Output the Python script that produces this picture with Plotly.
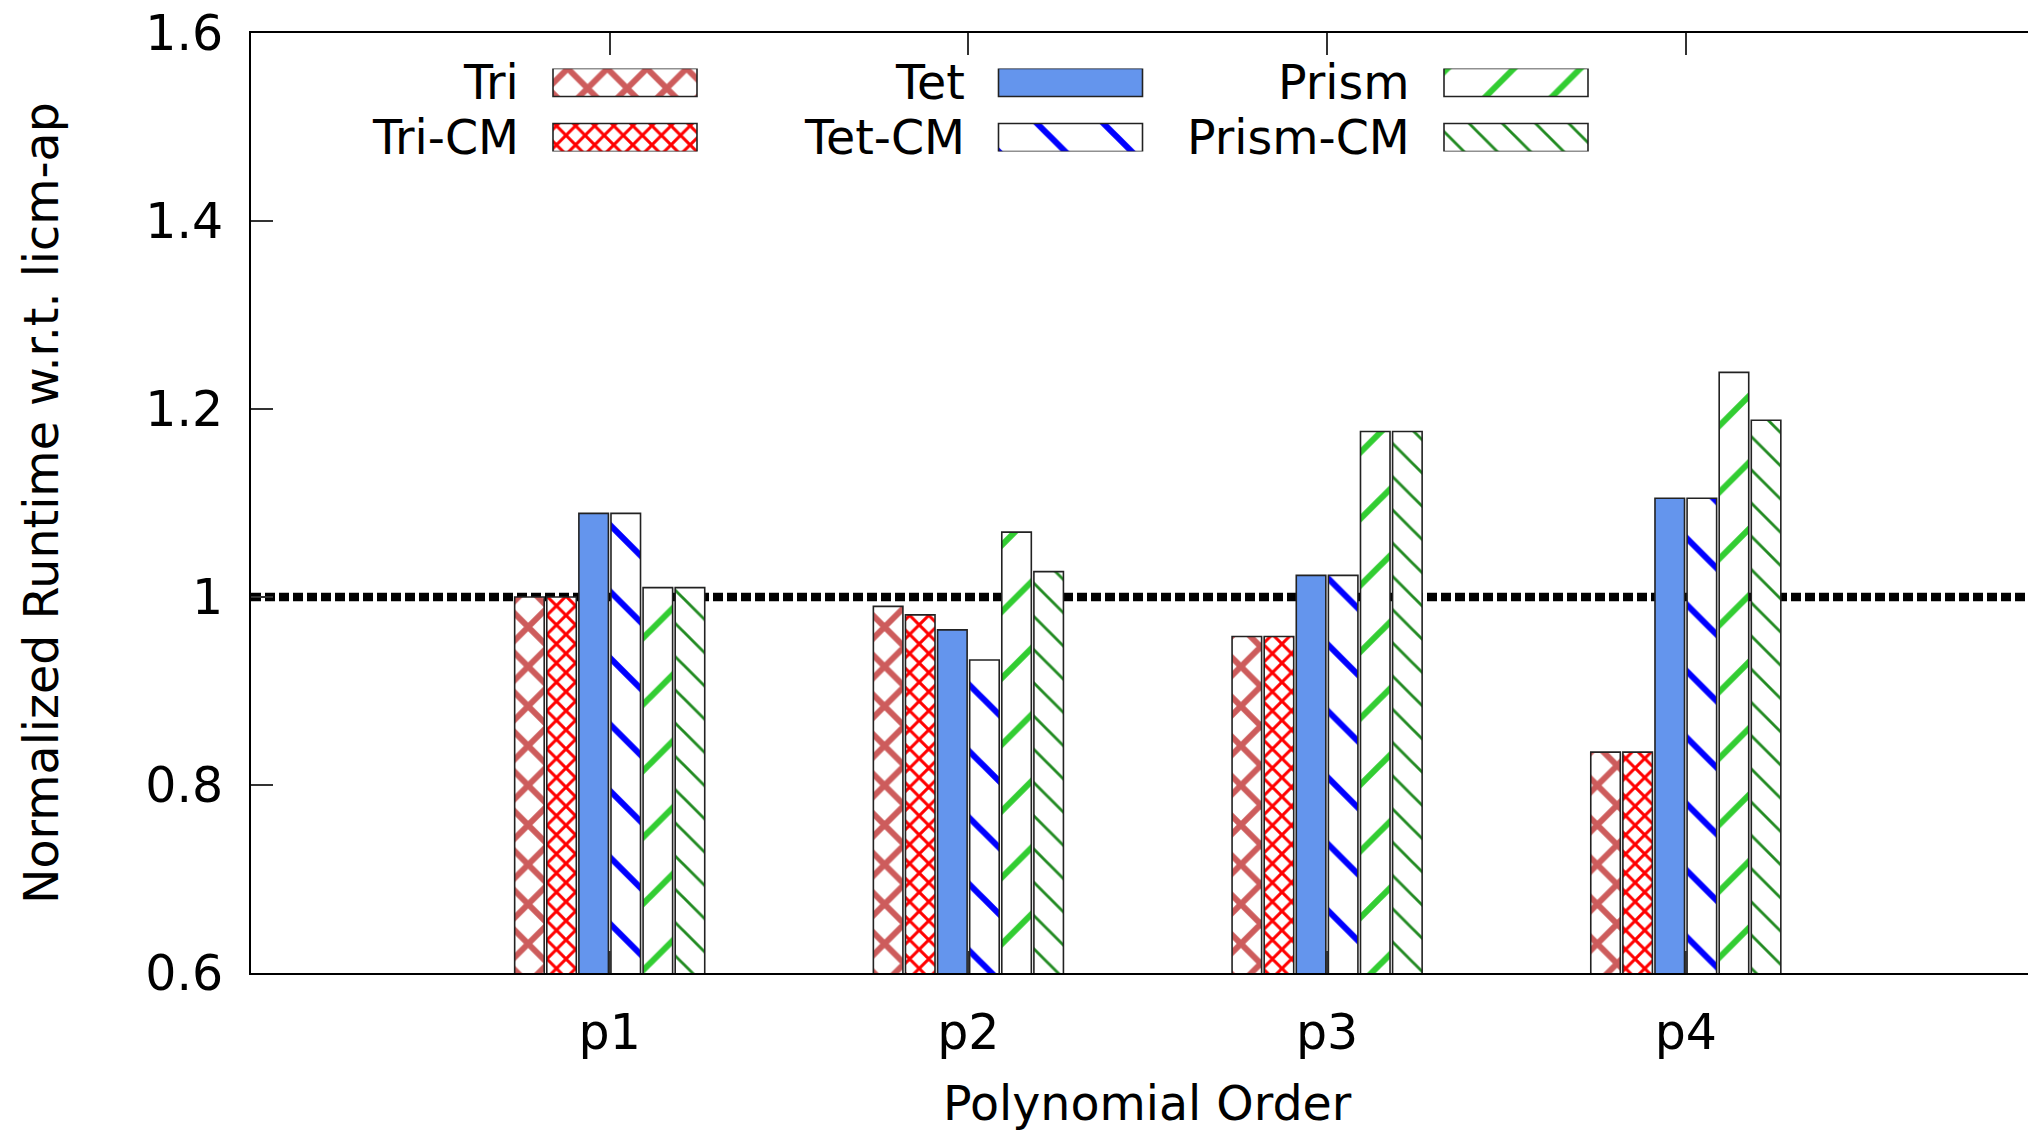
import plotly.graph_objects as go

# ---------------- data ----------------
categories = ["p1", "p2", "p3", "p4"]
category_pos = [1, 2, 3, 4]
series_names = ["Tri", "Tri-CM", "Tet", "Tet-CM", "Prism", "Prism-CM"]
tri = [1.000, 0.990, 0.958, 0.835]
tri_cm = [1.000, 0.981, 0.958, 0.835]
tet = [1.089, 0.965, 1.023, 1.105]
tet_cm = [1.089, 0.933, 1.023, 1.105]
prism = [1.010, 1.069, 1.176, 1.239]
prism_cm = [1.010, 1.027, 1.176, 1.188]
y_tick_vals = [0.6, 0.8, 1.0, 1.2, 1.4, 1.6]
y_tick_labels = ["0.6", "0.8", "1", "1.2", "1.4", "1.6"]
y_grid_vals = [0.8, 1.2, 1.4]
reference_level = 1.0

series_values = [tri, tri_cm, tet, tet_cm, prism, prism_cm]

# ---------------- styles ----------------
FONT = "DejaVu Sans"
FS = 47.5
TICK_FS = 49
styles = [
    dict(color="#CD5C5C", shape="x", size=28, solidity=0.38),
    dict(color="#FF0000", shape="x", size=13.5, solidity=0.40),
    dict(color="#6495ED", shape="", size=10, solidity=1.0),
    dict(color="#0000FF", shape="\\", size=47, solidity=0.13),
    dict(color="#32CD32", shape="/", size=47, solidity=0.13),
    dict(color="#228B22", shape="\\", size=23.5, solidity=0.12),
]
legend_col = [0, 0, 1, 1, 2, 2]
legend_row = [0, 1, 0, 1, 0, 1]

W, H = 2028, 1134
ML, MR, MT, MB = 251, 0, 33, 161
px_per_unit = 358.7
plot_w = W - ML - MR
plot_h = H - MT - MB
x_max = plot_w / px_per_unit


def make_marker(st):
    m = dict(color=st["color"], line=dict(color="#222222", width=1.6))
    if st["shape"]:
        m["color"] = "white"
        m["pattern"] = dict(shape=st["shape"], fgcolor=st["color"], bgcolor="white",
                            size=st["size"], solidity=st["solidity"], fillmode="replace")
    return m


fig = go.Figure()

for name, vals, st in zip(series_names, series_values, styles):
    fig.add_trace(go.Bar(x=category_pos, y=vals, name=name, marker=make_marker(st),
                         showlegend=False, hoverinfo="skip"))

# ---------- custom legend (text left of swatch, gnuplot style) ----------
col_spacing_px = 445.5
box_w_px = 144
row_spacing_px = 55
box_h_px = 28
leg_left_px = 553      # left edge of first swatch (page px)
leg_top_px = 68.5
text_gap_px = 32
box_w = box_w_px / col_spacing_px
box_h = box_h_px / row_spacing_px
x3_min = -(leg_left_px - ML) / col_spacing_px
x3_max = x3_min + plot_w / col_spacing_px
span_y_px = row_spacing_px + box_h_px
for name, st, c, r in zip(series_names, styles, legend_col, legend_row):
    fig.add_trace(go.Bar(x=[box_w], base=[c], y=[r], orientation="h", width=box_h,
                         offset=-box_h / 2, marker=make_marker(st), showlegend=False,
                         hoverinfo="skip", xaxis="x3", yaxis="y3"))
    fig.add_annotation(x=c - text_gap_px / col_spacing_px, y=r, xref="x3", yref="y3",
                       text=name, showarrow=False, xanchor="right", yanchor="middle",
                       font=dict(family=FONT, size=FS, color="black"))

# reference dashed line at 1.0 (below the bars)
fig.add_shape(type="line", xref="paper", yref="y", x0=0, x1=1, y0=reference_level,
              y1=reference_level, layer="below",
              line=dict(color="black", width=8.5, dash="10px,4px"))

axis_font = dict(family=FONT, size=FS, color="black")
tick_font = dict(family=FONT, size=TICK_FS, color="black")
fig.update_layout(
    width=W, height=H, autosize=False,
    margin=dict(l=ML, r=MR, t=MT, b=MB, pad=0, autoexpand=False),
    plot_bgcolor="white", paper_bgcolor="white",
    barmode="group", bargap=0.463, bargroupgap=0.08,
    font=axis_font,
    xaxis=dict(range=[0, x_max], tickvals=category_pos, ticktext=categories,
               ticks="inside", ticklen=22, tickwidth=1.5, tickcolor="#333333",
               showline=True, linecolor="black", linewidth=2, mirror="ticks",
               showgrid=False, zeroline=False, tickfont=tick_font,
               ticklabelstandoff=15, automargin=False),
    yaxis=dict(range=[0.6, 1.6], tickvals=y_tick_vals, ticktext=y_tick_labels,
               ticks="inside", ticklen=22, tickwidth=1.5, tickcolor="#333333",
               showline=True, linecolor="black", linewidth=2, mirror=False,
               showgrid=False, zeroline=False, tickfont=tick_font,
               ticklabelstandoff=16, automargin=False),
    yaxis2=dict(range=[0.6, 1.6], tickvals=y_grid_vals, overlaying="y", side="right",
                anchor="x", ticks="inside", ticklen=15, tickwidth=1.5, tickcolor="#333333",
                showticklabels=False, showgrid=True, gridcolor="#999999", gridwidth=1.5,
                griddash="2px,9px", showline=False, zeroline=False, automargin=False),
    xaxis3=dict(domain=[0, 1], range=[x3_min, x3_max], anchor="y3", visible=False,
                fixedrange=True, automargin=False),
    yaxis3=dict(domain=[(H - MB - (leg_top_px + span_y_px)) / plot_h,
                        (H - MB - leg_top_px) / plot_h],
                range=[1 + box_h / 2, -box_h / 2], anchor="x3", visible=False,
                fixedrange=True, automargin=False),
)

# axis titles
fig.add_annotation(text="Polynomial Order", x=2.5, xref="x", y=-(1103 - (H - MB)) / plot_h,
                   yref="paper", showarrow=False, xanchor="center", yanchor="middle",
                   font=axis_font)
fig.add_annotation(text="Normalized Runtime w.r.t. licm-ap", textangle=-90,
                   x=(41 - ML) / plot_w, xref="paper", y=0.5, yref="paper",
                   showarrow=False, xanchor="center", yanchor="middle", font=axis_font)

fig.write_html("out.html", config={"displayModeBar": False},
               post_script="document.body.style.margin='0px';"
                           "document.body.style.overflow='hidden';")
